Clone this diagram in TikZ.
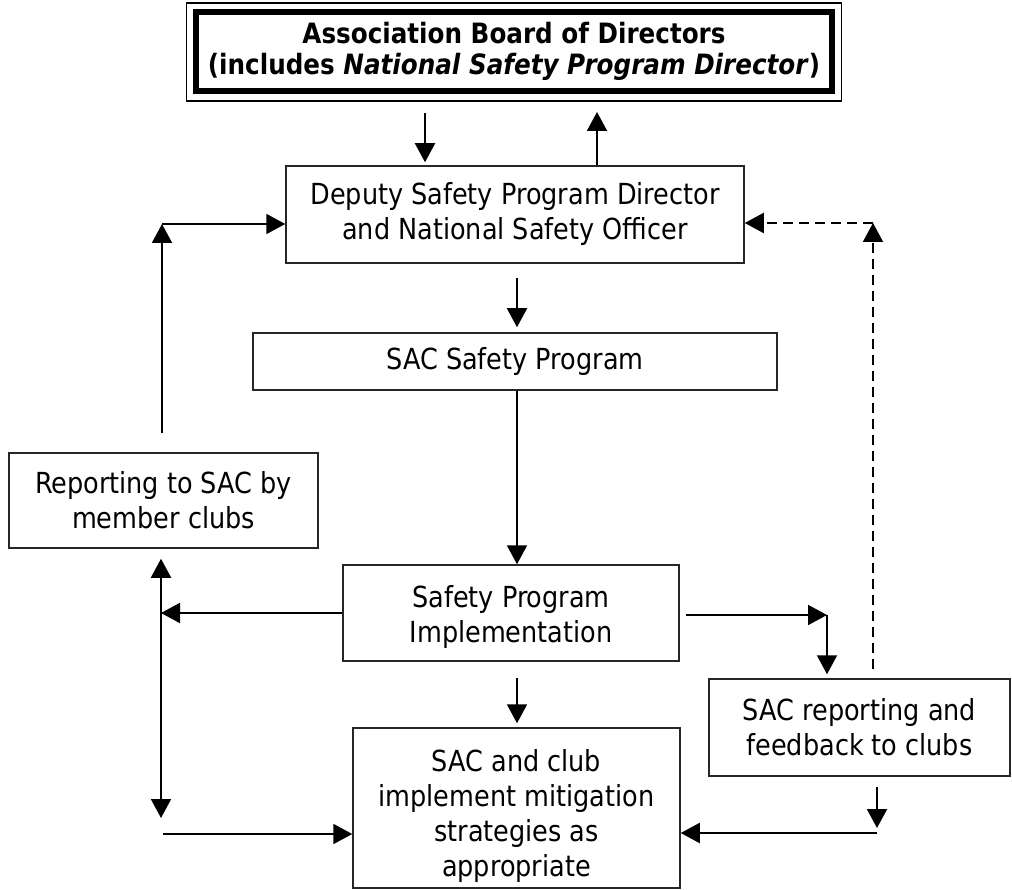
\documentclass[tikz,border=0pt]{standalone}
\usepackage{fontspec}
\setmainfont{DejaVu Sans}[FakeStretch=0.88]
\usepackage{tikz}
\usetikzlibrary{arrows.meta, positioning}

\begin{document}
\begin{tikzpicture}[x=1pt, y=-1pt,
    >={Triangle[length=19pt, width=20pt]},
    box/.style={draw=black!85, rectangle, line width=1.5pt, align=center, inner sep=0pt},
    every path/.style={line width=2pt},
    font=\fontsize{29}{35}\selectfont]
    \useasboundingbox (0,0) rectangle (1012,890);

    % Nodes for the boxes
    \node (board) [draw, rectangle, line width=6pt, minimum width=636pt, minimum height=79.5pt, align=center, inner sep=0pt, font=\fontsize{28}{31}\selectfont\bfseries] at (514,51.75) {Association Board of Directors\\(includes \textit{National Safety Program Director})};
    \node (deputy) [box, minimum width=458pt, minimum height=97pt] at (515,214.5) {Deputy Safety Program Director\\and National Safety Officer};
    \node (sac) [box, minimum width=524pt, minimum height=57pt] at (515,361.5) {SAC Safety Program};
    \node (report) [box, minimum width=309pt, minimum height=95pt] at (163.5,500.5) {Reporting to SAC by\\member clubs};
    \node (impl) [box, minimum width=336pt, minimum height=96pt] at (511,613) {\rule{0pt}{30pt}Safety Program\\Implementation};
    \node (mitig) [box, minimum width=327pt, minimum height=160pt] at (516.5,808) {\rule{0pt}{38pt}SAC and club\\implement mitigation\\strategies as\\appropriate};
    \node (sacrep) [box, minimum width=301pt, minimum height=97pt] at (859.5,727.5) {SAC reporting and\\feedback to clubs};

    % Outer thin frame of the board box
    \draw[line width=1.5pt] ([shift={(-6.5,-6)}]board.north west) rectangle ([shift={(6.5,6.5)}]board.south east);

    % Corners and loose ends of the connectors
    \coordinate (bd) at (425,113);
    \coordinate (bu) at (597,112);
    \coordinate (dtos) at (517,278);
    \coordinate (itom) at (517,678);
    \coordinate (lu) at (162,433);
    \coordinate (lc) at (162,224);
    \coordinate (lb) at (161,818);
    \coordinate (blc) at (163,834);
    \coordinate (rc) at (827,615);
    \coordinate (dc) at (873,223);
    \coordinate (brc) at (877,833);

    % Main line down the middle
    \draw[->, shorten >=3pt] (bd) -- (bd |- deputy.north);
    \draw[->] (bu |- deputy.north) -- (bu);
    \draw[->, shorten >=5pt] (dtos) -- (dtos |- sac.north);
    \draw[->] (sac.south -| dtos) -- (impl.north -| dtos);
    \draw[->, shorten >=4pt] (itom) -- (itom |- mitig.north);

    % Left side: reporting by member clubs
    \draw[->] (lu) -- (lc);
    \draw[->] (lc) -- (lc -| deputy.west);
    \draw[<->] ([yshift=-10pt]report.south -| lb) -- (lb);
    \draw[->] (impl.west) -- (impl.west -| lb);
    \draw[->] (blc) -- (blc -| mitig.west);

    % Right side: SAC reporting and feedback
    \draw[->, shorten <=6pt] (impl.east |- rc) -- (rc);
    \draw[->, shorten >=4pt] (rc) -- (rc |- sacrep.north);
    \draw[->, dashed, dash pattern=on 10pt off 6pt] ([yshift=9pt]sacrep.north -| dc) -- (dc);
    \draw[->, dashed, dash pattern=on 10pt off 6pt] (dc) -- (dc -| deputy.east);
    \draw[->] ([yshift=-10pt]sacrep.south -| brc) -- ([yshift=5pt]brc);
    \draw[->] (brc) -- (brc -| mitig.east);
\end{tikzpicture}
\end{document}
